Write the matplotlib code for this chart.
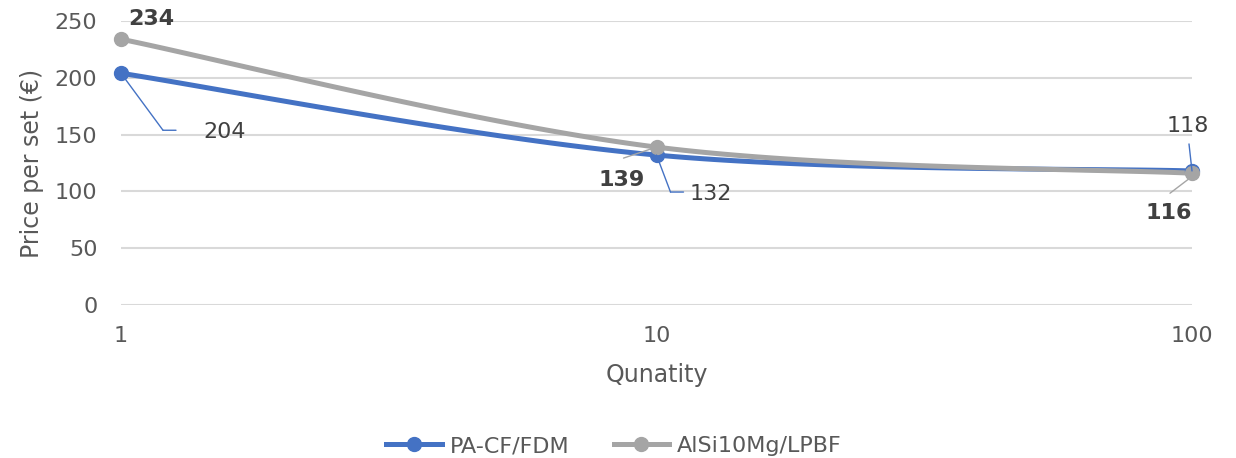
import numpy as np
import matplotlib
matplotlib.use("Agg")
import matplotlib.pyplot as plt
import matplotlib.transforms as mtransforms

plt.rcParams['font.family'] = ['DejaVu Sans']

quantity = [1, 10, 100]
pa_cf_fdm = [204, 132, 118]
alsi_lpbf = [234, 139, 116]
series_names = ["PA-CF/FDM", "AlSi10Mg/LPBF"]
colors = ["#4472C4", "#A5A5A5"]
y_ticks = [0, 50, 100, 150, 200, 250]

TEXT = "#595959"
LABEL = "#404040"


def excel_smooth(xs, ys, n=60):
    # Excel-style smoothed line (Catmull-Rom Bezier) in log-x space
    lx = np.log10(np.asarray(xs, float))
    y = np.asarray(ys, float)
    P = np.column_stack([lx, y])
    pts = []
    for i in range(len(P) - 1):
        p0 = P[i - 1] if i > 0 else P[i]
        p1, p2 = P[i], P[i + 1]
        p3 = P[i + 2] if i + 2 < len(P) else P[i + 1]
        c1 = p1 + (p2 - p0) / 6.0
        c2 = p2 - (p3 - p1) / 6.0
        t = np.linspace(0, 1, n)[:, None]
        seg = ((1 - t) ** 3) * p1 + 3 * ((1 - t) ** 2) * t * c1 + 3 * (1 - t) * t ** 2 * c2 + t ** 3 * p2
        pts.append(seg if i == 0 else seg[1:])
    pts = np.vstack(pts)
    return 10 ** pts[:, 0], pts[:, 1]


fig = plt.figure(figsize=(12.36, 4.58), dpi=100)
ax = fig.add_axes([121 / 1236, 1 - 305 / 458, (1192 - 121) / 1236, (305 - 21) / 458])
ax.set_xscale('log')
ax.set_xlim(1, 100)
ax.set_ylim(0, 250)
ax.set_yticks(y_ticks)
ax.set_xticks(quantity)
ax.set_xticklabels([str(q) for q in quantity])
ax.minorticks_off()
ax.grid(axis='y', color='#D9D9D9', linewidth=1.5)
ax.set_axisbelow(True)
for s in ax.spines.values():
    s.set_visible(False)
ax.tick_params(length=0, labelsize=16, labelcolor=TEXT)
ax.tick_params(axis='x', pad=15)
ax.tick_params(axis='y', pad=17)
ax.set_xlabel("Qunatity", fontsize=17, color=TEXT, labelpad=12)
ax.set_ylabel("Price per set (€)", fontsize=17, color=TEXT, labelpad=8)

handles = []
for vals, name, c in zip([pa_cf_fdm, alsi_lpbf], series_names, colors):
    sx, sy = excel_smooth(quantity, vals)
    ax.plot(sx, sy, color=c, linewidth=3.6, solid_capstyle='round', zorder=3, clip_on=False)
    ax.plot(quantity, vals, linestyle='none', marker='o', markersize=10, color=c, zorder=4, clip_on=False)
    h, = ax.plot([], [], color=c, linewidth=3.6, marker='o', markersize=10, label=name)
    handles.append(h)

# label offsets in pixels (dx, dy up-positive) and leader polylines in pixels
label_specs = [
    # series index, point index, text offset, bold, leader points
    (0, 0, (104, -59), False, [(0, 0), (42, -57), (55, -57)]),
    (0, 1, (54, -39), False, [(0, 0), (14, -37), (27, -37)]),
    (0, 2, (-4, 45), False, [(0, 0), (-3, 27)]),
    (1, 0, (30, 20), True, None),
    (1, 1, (-35, -33), True, [(0, 0), (-33, -11)]),
    (1, 2, (-23, -40), True, [(-1, -4), (-22, -20)]),
]
series_vals = [pa_cf_fdm, alsi_lpbf]
for si, pi, (dx, dy), bold, leader in label_specs:
    xq = quantity[pi]
    yv = series_vals[si][pi]
    ax.annotate(str(yv), (xq, yv), xytext=(dx * 0.72, dy * 0.72), textcoords='offset points',
                ha='center', va='center', fontsize=16, color=LABEL,
                fontweight='bold' if bold else 'normal', zorder=6, annotation_clip=False)
    if leader is not None:
        for k in range(len(leader) - 1):
            (ox0, oy0), (ox1, oy1) = leader[k], leader[k + 1]
            ax.annotate("", xy=(xq, yv), xytext=(xq, yv),
                        xycoords=ax.transData + mtransforms.ScaledTranslation(ox0 / 100.0, oy0 / 100.0, fig.dpi_scale_trans),
                        textcoords=ax.transData + mtransforms.ScaledTranslation(ox1 / 100.0, oy1 / 100.0, fig.dpi_scale_trans),
                        arrowprops=dict(arrowstyle='-', color=colors[si], lw=1.0, shrinkA=0, shrinkB=0),
                        annotation_clip=False, zorder=5)

fig.legend(handles=handles, loc='center', bbox_to_anchor=(614 / 1236, 1 - 446 / 458), ncol=2, frameon=False,
           fontsize=16, labelcolor=TEXT, handlelength=2.5, handletextpad=0.35, columnspacing=2.0)

fig.savefig("out.png", dpi=100)
